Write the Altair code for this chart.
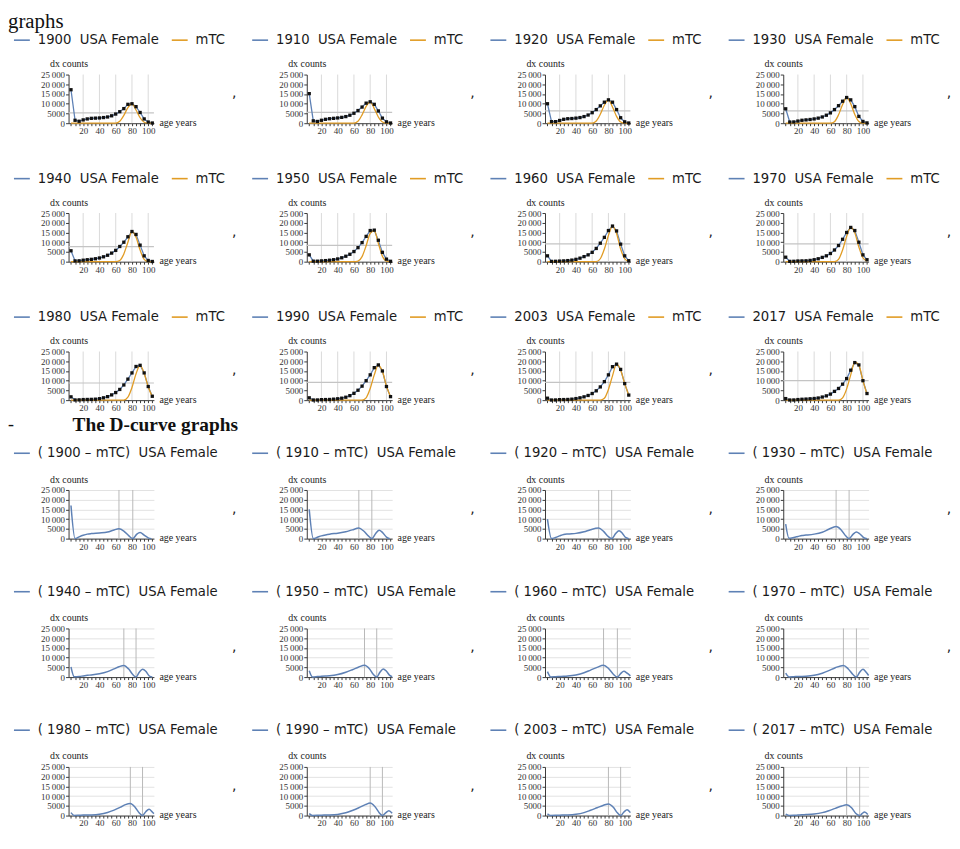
import altair as alt
import pandas as pd

# ---------------- data ----------------
YEARS = ["1900", "1910", "1920", "1930", "1940", "1950",
         "1960", "1970", "1980", "1990", "2003", "2017"]
AGES = [5, 10, 15, 20, 25, 30, 35, 40, 45, 50, 55, 60, 65, 70, 75, 80, 85, 90, 95, 100, 105]

DX_1900 = [17200, 1500, 1000, 1700, 2200, 2500, 2600, 2700, 2900, 3200, 3800, 4700, 5900, 7500, 9700, 10000, 8500, 5500, 2200, 600, 100]
DX_1910 = [15200, 1200, 900, 1500, 2000, 2300, 2500, 2700, 3000, 3400, 4100, 5100, 6500, 8300, 10300, 11000, 9700, 6300, 2600, 700, 100]
DX_1920 = [10000, 800, 800, 1400, 2000, 2300, 2400, 2600, 2900, 3400, 4200, 5400, 7000, 8900, 10800, 12000, 10800, 7000, 2800, 700, 100]
DX_1930 = [7400, 600, 650, 1100, 1500, 1700, 1900, 2200, 2600, 3200, 4100, 5300, 7000, 9000, 11300, 13200, 12000, 8500, 3500, 900, 150]
DX_1940 = [5600, 400, 450, 750, 1000, 1200, 1500, 1900, 2500, 3300, 4400, 5800, 7800, 10000, 12800, 15500, 14000, 8500, 3000, 600, 100]
DX_1950 = [3500, 250, 250, 400, 550, 750, 1000, 1400, 2000, 2800, 3800, 5200, 7200, 9800, 13000, 16000, 16200, 11000, 4800, 1300, 200]
DX_1960 = [3000, 150, 200, 300, 400, 550, 800, 1200, 1800, 2600, 3500, 4800, 6800, 9500, 12500, 16000, 18300, 15800, 9000, 3000, 500]
DX_1970 = [2300, 150, 200, 350, 400, 450, 650, 1000, 1500, 2200, 3000, 4200, 6000, 8300, 11500, 15000, 17600, 16000, 10000, 3500, 1000]
DX_1980 = [1700, 100, 150, 300, 350, 400, 500, 750, 1200, 1800, 2700, 3900, 5500, 7800, 10800, 14000, 17300, 17900, 14000, 7000, 2000]
DX_1990 = [1200, 80, 100, 250, 300, 350, 500, 700, 1000, 1500, 2300, 3500, 5100, 7200, 10000, 13000, 16700, 18100, 15000, 7000, 1800]
DX_2003 = [1000, 70, 100, 250, 300, 350, 500, 800, 1200, 1700, 2400, 3400, 4800, 6800, 9500, 13000, 17200, 18500, 15800, 8500, 2600]
DX_2017 = [800, 80, 100, 300, 450, 550, 700, 850, 1100, 1600, 2200, 3100, 4500, 6000, 8200, 11100, 15400, 19300, 18100, 10000, 3400]

MTC_1900 = [0, 0, 0, 0, 0, 0, 0, 0, 0, 0, 0, 0, 1000, 4000, 8000, 10000, 6800, 2800, 500, 0, 0]
MTC_1910 = [0, 0, 0, 0, 0, 0, 0, 0, 0, 0, 0, 0, 1000, 4300, 8600, 11000, 7500, 3200, 600, 0, 0]
MTC_1920 = [0, 0, 0, 0, 0, 0, 0, 0, 0, 0, 0, 0, 1100, 4600, 9200, 12000, 8300, 3500, 600, 0, 0]
MTC_1930 = [0, 0, 0, 0, 0, 0, 0, 0, 0, 0, 0, 0, 800, 4300, 9600, 13200, 10000, 4500, 900, 0, 0]
MTC_1940 = [0, 0, 0, 0, 0, 0, 0, 0, 0, 0, 0, 0, 600, 4000, 10000, 15500, 12500, 6000, 1200, 0, 0]
MTC_1950 = [0, 0, 0, 0, 0, 0, 0, 0, 0, 0, 0, 0, 300, 2600, 8200, 14500, 16000, 9500, 2800, 300, 0]
MTC_1960 = [0, 0, 0, 0, 0, 0, 0, 0, 0, 0, 0, 0, 0, 1500, 6500, 13500, 18300, 14500, 6500, 1500, 0]
MTC_1970 = [0, 0, 0, 0, 0, 0, 0, 0, 0, 0, 0, 0, 0, 1200, 6000, 13000, 17600, 14800, 7500, 2000, 300]
MTC_1980 = [0, 0, 0, 0, 0, 0, 0, 0, 0, 0, 0, 0, 0, 0, 1500, 6500, 13500, 17900, 13800, 6800, 1800]
MTC_1990 = [0, 0, 0, 0, 0, 0, 0, 0, 0, 0, 0, 0, 0, 0, 1200, 6000, 13000, 18000, 14800, 7200, 1800]
MTC_2003 = [0, 0, 0, 0, 0, 0, 0, 0, 0, 0, 0, 0, 0, 0, 1000, 5500, 12500, 18500, 15500, 8500, 2600]
MTC_2017 = [0, 0, 0, 0, 0, 0, 0, 0, 0, 0, 0, 0, 0, 0, 1200, 5800, 13000, 19500, 18000, 10000, 3000]

HALF_MAX = [5300, 5600, 6300, 6300, 7700, 8400, 9100, 9100, 8800, 9100, 9100, 10000]
GRID_AGES = [20, 40, 60, 80, 100]

D_AGES_1900 = [5, 10, 15, 20, 25, 30, 40, 50, 57, 64, 70, 76, 81, 86, 90, 95, 100, 104]
D_VALS_1900 = [17000, 0, 900, 1700, 2300, 2600, 2900, 3400, 4300, 5100, 3900, 1500, 0, 2300, 3100, 1800, 400, 0]
D_AGES_1910 = [5, 10, 15, 20, 25, 30, 40, 50, 58, 66, 72, 78, 82, 87, 91, 95, 100, 104]
D_VALS_1910 = [15000, 0, 700, 1400, 1900, 2300, 2800, 3500, 4500, 5400, 3900, 1300, 0, 2800, 4300, 3200, 800, 0]
D_AGES_1920 = [5, 10, 15, 20, 25, 30, 40, 50, 58, 68, 74, 80, 84, 89, 93, 97, 101, 105]
D_VALS_1920 = [10000, 0, 600, 1400, 2100, 2400, 2700, 3500, 4600, 5400, 3700, 1000, 0, 2700, 4000, 2800, 600, 0]
D_AGES_1930 = [5, 9, 15, 20, 25, 30, 40, 50, 58, 67, 73, 79, 83, 88, 92, 96, 101, 105]
D_VALS_1930 = [7400, 200, 600, 1100, 1600, 1800, 2300, 3300, 4800, 6200, 4600, 1300, 0, 2300, 3400, 2500, 500, 0]
D_AGES_1940 = [5, 9, 15, 20, 25, 30, 40, 50, 58, 64, 70, 76, 81, 85, 89, 93, 97, 101, 105]
D_VALS_1940 = [5200, 200, 300, 600, 900, 1100, 1700, 2800, 4200, 5300, 6000, 4100, 1300, 0, 2500, 4000, 3000, 700, 0]
D_AGES_1950 = [5, 9, 15, 20, 25, 30, 40, 50, 58, 66, 73, 79, 84, 88, 92, 96, 100, 104, 107]
D_VALS_1950 = [3300, 100, 250, 400, 550, 700, 1300, 2500, 3800, 5200, 6100, 4300, 1300, 0, 2500, 4200, 3000, 900, 200]
D_AGES_1960 = [5, 9, 15, 20, 25, 30, 40, 50, 58, 66, 74, 80, 86, 91, 95, 99, 103, 107]
D_VALS_1960 = [2800, 100, 200, 300, 400, 550, 1100, 2200, 3600, 5000, 6100, 4500, 1500, 0, 1800, 3000, 2000, 600]
D_AGES_1970 = [5, 9, 15, 20, 25, 30, 40, 50, 58, 66, 76, 82, 88, 92, 96, 100, 104, 107]
D_VALS_1970 = [2000, 100, 200, 300, 350, 450, 900, 2000, 3300, 4800, 6000, 4200, 1200, 0, 2500, 4000, 2500, 800]
D_AGES_1980 = [5, 9, 15, 20, 25, 30, 40, 50, 58, 66, 72, 78, 84, 89, 93, 97, 101, 105, 107]
D_VALS_1980 = [1500, 50, 150, 250, 300, 350, 700, 1600, 2800, 4300, 5600, 6200, 4200, 1300, 0, 2000, 3200, 1800, 1000]
D_AGES_1990 = [5, 9, 15, 20, 25, 30, 40, 50, 58, 66, 74, 80, 86, 91, 95, 99, 103, 107]
D_VALS_1990 = [1000, 50, 100, 200, 250, 300, 600, 1400, 2600, 4000, 5600, 6500, 4500, 1500, 0, 1400, 2500, 1200]
D_AGES_2003 = [5, 9, 15, 20, 25, 30, 40, 50, 58, 66, 74, 80, 86, 91, 95, 99, 103, 107]
D_VALS_2003 = [900, 50, 100, 200, 250, 300, 650, 1500, 2700, 4000, 5300, 6000, 4300, 1400, 0, 1800, 3000, 1500]
D_AGES_2017 = [5, 9, 15, 20, 25, 30, 40, 50, 58, 66, 74, 80, 86, 91, 96, 99, 102, 106]
D_VALS_2017 = [700, 50, 100, 250, 400, 500, 800, 1500, 2500, 3700, 4900, 5500, 4000, 1200, 0, 1000, 1800, 500]

V_LINES = [[64, 81], [66, 82], [68, 84], [67, 83], [70, 85], [73, 88],
           [74, 91], [76, 92], [78, 93], [80, 95], [80, 95], [80, 96]]

DX = [DX_1900, DX_1910, DX_1920, DX_1930, DX_1940, DX_1950,
      DX_1960, DX_1970, DX_1980, DX_1990, DX_2003, DX_2017]
MTC = [MTC_1900, MTC_1910, MTC_1920, MTC_1930, MTC_1940, MTC_1950,
       MTC_1960, MTC_1970, MTC_1980, MTC_1990, MTC_2003, MTC_2017]
D_AGES = [D_AGES_1900, D_AGES_1910, D_AGES_1920, D_AGES_1930, D_AGES_1940, D_AGES_1950,
          D_AGES_1960, D_AGES_1970, D_AGES_1980, D_AGES_1990, D_AGES_2003, D_AGES_2017]
D_VALS = [D_VALS_1900, D_VALS_1910, D_VALS_1920, D_VALS_1930, D_VALS_1940, D_VALS_1950,
          D_VALS_1960, D_VALS_1970, D_VALS_1980, D_VALS_1990, D_VALS_2003, D_VALS_2017]

Y_TICKS = [0, 5000, 10000, 15000, 20000, 25000]

# ---------------- styling ----------------
BLUE = "#5E81B5"
ORANGE = "#E19C24"
SERIF = "Liberation Serif"
SANS = "DejaVu Sans"
W, H = 86, 49
AXIS_COLOR = "#3a3a3a"
NB = "\u00a0"

xs = alt.Scale(domain=[2, 107], nice=False, zero=False)
ys = alt.Scale(domain=[0, 25000], nice=False)


def x_axis():
    return alt.Axis(values=AGES, labelExpr="datum.value % 20 === 0 ? datum.label : ''",
                    grid=False, tickSize=2.5, labelPadding=1, labelOverlap=False,
                    labelFlush=False, labelBound=False,
                    domainColor=AXIS_COLOR, tickColor=AXIS_COLOR,
                    title="age years", titleX=W + 5, titleY=-1, titleAlign="left",
                    titleBaseline="middle", titleAngle=0)


def y_axis(grid):
    return alt.Axis(values=Y_TICKS,
                    labelExpr="datum.value >= 10000 ? floor(datum.value / 1000) + '\u2009000' : '' + datum.value",
                    grid=grid, gridColor="#e2e2e2", tickSize=3, labelPadding=1,
                    labelOverlap=False, labelFlush=False,
                    domainColor=AXIS_COLOR, tickColor=AXIS_COLOR,
                    title="dx counts", titleX=0, titleY=-11, titleAngle=0,
                    titleAlign="center", titleBaseline="middle")


def X(field):
    return alt.X(f"{field}:Q", scale=xs, axis=x_axis())


def Y(field, grid=False):
    return alt.Y(f"{field}:Q", scale=ys, axis=y_axis(grid))


def legend(y_center):
    return alt.Legend(title=None, orient="none", legendX=-56, legendY=y_center - 8,
                      direction="horizontal", symbolType="stroke", symbolSize=256,
                      symbolStrokeWidth=1.6, labelFont=SANS, labelFontSize=13.3,
                      labelColor="#1a1a1a", labelOffset=7, columnPadding=8,
                      padding=0, labelLimit=400)


def comma_layer():
    return alt.Chart(pd.DataFrame({"t": [","]})).mark_text(
        font=SANS, fontSize=14, color="#222", align="center", baseline="alphabetic"
    ).encode(x=alt.value(167), y=alt.value(23), text="t:N")


def text_layer(txt, x, y, size, weight="normal", align="left"):
    return alt.Chart(pd.DataFrame({"t": [txt]})).mark_text(
        font=SERIF, fontSize=size, fontWeight=weight, color="#111",
        align=align, baseline="middle"
    ).encode(x=alt.value(x), y=alt.value(y), text="t:N")


def top_panel(i):
    label = f"{YEARS[i]}{NB}{NB}USA Female"
    df_dx = pd.DataFrame({"age": AGES, "value": DX[i], "series": label})
    df_m = pd.DataFrame({"age": AGES, "value": MTC[i], "series": "mTC"})
    color = alt.Color("series:N", scale=alt.Scale(domain=[label, "mTC"], range=[BLUE, ORANGE]),
                      legend=legend(-36))
    grid = alt.Chart(pd.DataFrame({"g": GRID_AGES})).mark_rule(
        color="#dadada", strokeWidth=1).encode(x=X("g"))
    half = alt.Chart(pd.DataFrame({"h": [HALF_MAX[i]]})).mark_rule(
        color="#c4c4c4", strokeWidth=1.2).encode(y=Y("h"))
    dx_line = alt.Chart(df_dx).mark_line(strokeWidth=1.3).encode(
        x=X("age"), y=Y("value"), color=color)
    m_line = alt.Chart(df_m).mark_line(strokeWidth=1.3, interpolate="monotone").encode(
        x=X("age"), y=Y("value"), color=color)
    pts = alt.Chart(df_dx).mark_square(size=11, color="#111", opacity=1).encode(
        x=X("age"), y=Y("value"))
    layers = [grid, half, dx_line, m_line, pts]
    if i != 11:
        layers.append(comma_layer())
    if i == 0:
        layers.append(text_layer("graphs", -61, -53, 21))
    return alt.layer(*layers).properties(width=W, height=H)


def d_panel(i):
    label = f"({NB}{YEARS[i]} – mTC){NB}{NB}USA Female"
    df_d = pd.DataFrame({"age": D_AGES[i], "value": D_VALS[i], "series": label})
    color = alt.Color("series:N", scale=alt.Scale(domain=[label], range=[BLUE]),
                      legend=legend(-38))
    vl = alt.Chart(pd.DataFrame({"v": V_LINES[i]})).mark_rule(
        color="#b8b8b8", strokeWidth=1).encode(x=X("v"))
    d_line = alt.Chart(df_d).mark_line(strokeWidth=1.5, interpolate="monotone").encode(
        x=X("age"), y=Y("value", grid=True), color=color)
    layers = [vl, d_line]
    if i != 11:
        layers.append(comma_layer())
    if i == 0:
        layers.append(text_layer("-", -58, -65, 18, align="center"))
        layers.append(text_layer("The D-curve graphs", 4, -65, 19.5, weight="bold"))
    return alt.layer(*layers).properties(width=W, height=H)


panels = [top_panel(i) for i in range(12)] + [d_panel(i) for i in range(12)]

chart = alt.concat(
    *panels, columns=4, spacing={"row": 90.5, "column": 154}, bounds="flush"
).resolve_scale(color="independent").properties(
    padding=0
).configure_view(
    stroke=None
).configure_axis(
    labelFont=SERIF, labelFontSize=9, labelColor="#333",
    titleFont=SERIF, titleFontSize=10, titleFontWeight="normal", titleColor="#222"
)

chart.save("out.html", embed_options={"renderer": "svg", "actions": False})
